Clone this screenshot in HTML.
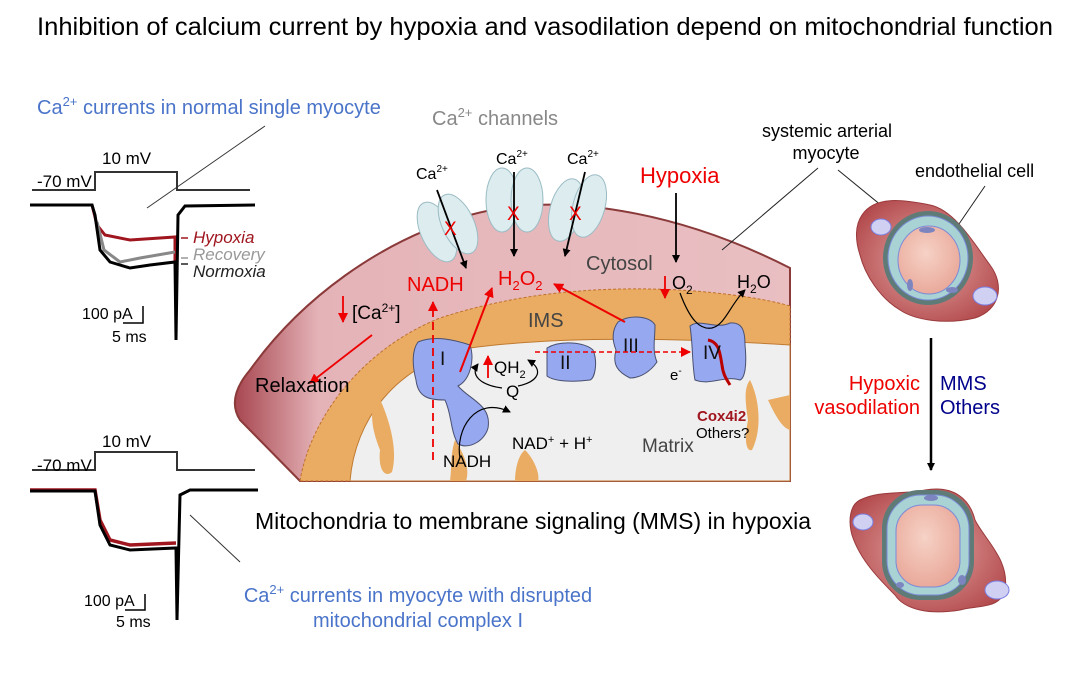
<!DOCTYPE html>
<html><head><meta charset="utf-8"><style>
body{margin:0;background:#fff}
svg{display:block;font-family:"Liberation Sans",Arial,sans-serif}
</style></head><body>
<svg width="1080" height="675" viewBox="0 0 1080 675" xmlns="http://www.w3.org/2000/svg">
<defs>
<linearGradient id="cell" x1="0" x2="1" y1="0" y2="0">
<stop offset="0" stop-color="#a84650"/><stop offset="0.15" stop-color="#e4b3b7"/><stop offset="1" stop-color="#e9bfc2"/></linearGradient>
<radialGradient id="myo" cx="0.5" cy="0.5" r="0.6"><stop offset="0" stop-color="#e6a7a5"/><stop offset="1" stop-color="#b2494c"/></radialGradient>
<radialGradient id="lum" cx="0.45" cy="0.4" r="0.7"><stop offset="0" stop-color="#f6d2c6"/><stop offset="1" stop-color="#e7a394"/></radialGradient>
<marker id="ak" markerWidth="8" markerHeight="8" refX="7" refY="4" orient="auto" markerUnits="userSpaceOnUse"><path d="M0,0 L8,4 L0,8 Z" fill="#000"/></marker>
<marker id="ar" markerWidth="10" markerHeight="10" refX="9" refY="5" orient="auto" markerUnits="userSpaceOnUse"><path d="M0,0 L10,5 L0,10 Z" fill="#e00"/></marker>
</defs>

<text x="545" y="35" font-size="25" text-anchor="middle" fill="#000" textLength="1016" lengthAdjust="spacingAndGlyphs">Inhibition of calcium current by hypoxia and vasodilation depend on mitochondrial function</text>

<!-- top traces -->
<text x="37" y="114" font-size="20" fill="#4a74c9">Ca<tspan font-size="13" dy="-8">2+</tspan><tspan dy="8"> currents in normal single myocyte</tspan></text>
<polyline points="32,190 95,190 95,172 177,172 177,190 250,190" fill="none" stroke="#333" stroke-width="2"/>
<text x="37" y="187" font-size="17">-70 mV</text>
<text x="102" y="164" font-size="17">10 mV</text>
<line x1="147" y1="208" x2="265" y2="126" stroke="#333" stroke-width="1"/>
<polyline points="30,205 92,205 97,225 105,235 130,240 175,237 175,262" fill="none" stroke="#a0161f" stroke-width="3"/>
<polyline points="97,222 104,250 120,262 140,258 175,252" fill="none" stroke="#888" stroke-width="3"/>
<polyline points="30,205 92,205 95,215 100,250 110,262 130,268 150,265 175,262 176,340 178,215 185,206 255,205" fill="none" stroke="#000" stroke-width="3"/>
<text x="193" y="243" font-size="17" font-style="italic" fill="#a0161f">Hypoxia</text>
<text x="193" y="260" font-size="17" font-style="italic" fill="#999">Recovery</text>
<text x="193" y="277" font-size="17" font-style="italic" fill="#222">Normoxia</text>
<line x1="181" y1="238" x2="188" y2="238" stroke="#a0161f" stroke-width="1.5"/>
<line x1="181" y1="258" x2="188" y2="258" stroke="#999" stroke-width="1.5"/>
<line x1="181" y1="264" x2="188" y2="264" stroke="#222" stroke-width="1.5"/>
<text x="82" y="319" font-size="16">100 pA</text>
<polyline points="123,323 143,323 143,306" fill="none" stroke="#000" stroke-width="1.5"/>
<text x="112" y="342" font-size="16">5 ms</text>

<!-- bottom traces -->
<polyline points="32,470 95,470 95,452 177,452 177,470 255,470" fill="none" stroke="#333" stroke-width="2"/>
<text x="37" y="471" font-size="17">-70 mV</text>
<text x="102" y="447" font-size="17">10 mV</text>
<polyline points="30,490 95,490 100,520 110,540 130,545 176,543" fill="none" stroke="#a0161f" stroke-width="3.5"/>
<polyline points="30,491 95,491 100,525 110,545 130,550 176,548 177,620 180,495 190,490 258,490" fill="none" stroke="#000" stroke-width="3"/>
<line x1="190" y1="515" x2="240" y2="562" stroke="#333" stroke-width="1"/>
<text x="84" y="606" font-size="16">100 pA</text>
<polyline points="125,610 145,610 145,594" fill="none" stroke="#000" stroke-width="1.5"/>
<text x="116" y="627" font-size="16">5 ms</text>
<text x="418" y="602" font-size="20" fill="#4a74c9" text-anchor="middle">Ca<tspan font-size="13" dy="-8">2+</tspan><tspan dy="8"> currents in myocyte with disrupted</tspan></text>
<text x="418" y="627" font-size="20" fill="#4a74c9" text-anchor="middle">mitochondrial complex I</text>

<text x="255" y="529" font-size="23">Mitochondria to membrane signaling (MMS) in hypoxia</text>

<!-- central diagram -->
<g>
<path d="M300,481 L240,420 Q226,398 250,370 C300,300 380,240 470,215 C560,190 680,212 790,268 L790,481 Z" fill="url(#cell)" stroke="#8b3a3a" stroke-width="2"/>
<path d="M300,481 C310,420 360,350 440,318 C520,292 600,286 680,290 C730,293 770,300 790,306 L790,481 Z" fill="#e9ac62" stroke="#c0702e" stroke-width="1" stroke-dasharray="3,2"/>
<path d="M350,481 C355,420 395,365 470,348 C560,336 680,338 790,345 L790,481 Z" fill="#efefef" stroke="#c07a30" stroke-width="1"/>
<path d="M378,395 C390,420 398,450 392,472 C385,478 378,470 380,450 C372,430 368,410 378,395 Z" fill="#e9ac62"/>
<path d="M455,440 C465,455 470,470 466,481 L450,481 C452,468 450,455 455,440 Z" fill="#e9ac62"/>
<path d="M525,450 C535,460 540,475 538,481 L515,481 C515,470 518,455 525,450 Z" fill="#e9ac62"/>
<path d="M750,380 C760,400 762,430 752,450 C746,452 744,440 748,420 C745,400 744,388 750,380 Z" fill="#e9ac62"/>
<path d="M768,400 L790,395 L790,430 C782,428 775,415 768,400 Z" fill="#e9ac62"/>

<!-- channels -->
<g fill="#dcecef" stroke="#9bbcc4" stroke-width="1">
<ellipse cx="437" cy="232" rx="16" ry="32" transform="rotate(-25 437 232)"/>
<ellipse cx="458" cy="224" rx="16" ry="32" transform="rotate(-25 458 224)"/>
<ellipse cx="502" cy="200" rx="16" ry="32"/>
<ellipse cx="527" cy="200" rx="16" ry="32"/>
<ellipse cx="566" cy="210" rx="16" ry="32" transform="rotate(15 566 210)"/>
<ellipse cx="589" cy="206" rx="16" ry="32" transform="rotate(15 589 206)"/>
</g>
<g stroke="#000" stroke-width="1.8" marker-end="url(#ak)">
<line x1="437" y1="190" x2="466" y2="268"/>
<line x1="514" y1="172" x2="514" y2="256"/>
<line x1="585" y1="172" x2="565" y2="256"/>
<line x1="676" y1="193" x2="676" y2="262"/>
</g>
<text x="416" y="179" font-size="16">Ca<tspan font-size="10" dy="-7">2+</tspan></text>
<text x="496" y="164" font-size="16">Ca<tspan font-size="10" dy="-7">2+</tspan></text>
<text x="567" y="164" font-size="16">Ca<tspan font-size="10" dy="-7">2+</tspan></text>
<g fill="#e00" font-size="19"><text x="444" y="235">X</text><text x="507" y="220">X</text><text x="569" y="220">X</text></g>
<text x="640" y="183" font-size="22" fill="#e00">Hypoxia</text>
<text x="586" y="270" font-size="20" fill="#444">Cytosol</text>
<text x="407" y="291" font-size="20" fill="#e00">NADH</text>
<text x="498" y="285" font-size="20" fill="#e00">H<tspan font-size="13" dy="5">2</tspan><tspan dy="-5">O</tspan><tspan font-size="13" dy="5">2</tspan></text>
<line x1="343" y1="296" x2="343" y2="322" stroke="#e00" stroke-width="1.8" marker-end="url(#ar)"/>
<text x="352" y="319" font-size="19">[Ca<tspan font-size="12" dy="-7">2+</tspan><tspan dy="7">]</tspan></text>
<line x1="372" y1="335" x2="310" y2="383" stroke="#e00" stroke-width="1.8" marker-end="url(#ar)"/>
<text x="255" y="392" font-size="20">Relaxation</text>
<text x="528" y="327" font-size="20" fill="#444">IMS</text>
<line x1="665" y1="276" x2="665" y2="298" stroke="#e00" stroke-width="1.8" marker-end="url(#ar)"/>
<text x="672" y="289" font-size="18">O<tspan font-size="12" dy="5">2</tspan></text>
<text x="737" y="288" font-size="18">H<tspan font-size="12" dy="5">2</tspan><tspan dy="-5">O</tspan></text>

<!-- complexes -->
<g fill="#95a8f0" stroke="#4a5070" stroke-width="1">
<path d="M418,342 C435,335 455,340 470,345 C475,360 470,380 458,386 C470,400 492,405 488,428 C485,440 470,450 458,444 C450,430 452,415 445,400 C430,400 418,398 416,380 C412,365 412,350 418,342 Z"/>
<path d="M547,348 C560,340 585,342 593,350 C598,362 595,378 590,380 C575,382 555,382 547,376 Z"/>
<path d="M618,322 C630,314 650,316 655,325 C655,340 652,350 657,362 C650,372 640,378 630,378 C618,372 612,365 616,350 C612,340 612,330 618,322 Z"/>
<path d="M690,326 C700,318 715,330 730,323 C742,322 745,330 745,345 C747,365 745,378 740,380 C725,375 710,386 695,380 C692,365 693,345 690,326 Z"/>
</g>
<path d="M708,340 C720,342 720,355 722,365 C723,375 727,380 730,385" fill="none" stroke="#b00" stroke-width="3"/>
<text x="440" y="365" font-size="19" fill="#111">I</text>
<text x="560" y="369" font-size="19" fill="#111">II</text>
<text x="623" y="352" font-size="19" fill="#111">III</text>
<text x="703" y="359" font-size="19" fill="#111">IV</text>
<line x1="433" y1="460" x2="433" y2="302" stroke="#e00" stroke-width="1.8" stroke-dasharray="8,5" marker-end="url(#ar)"/>
<line x1="460" y1="372" x2="492" y2="288" stroke="#e00" stroke-width="2" marker-end="url(#ar)"/>
<line x1="625" y1="322" x2="554" y2="284" stroke="#e00" stroke-width="2" marker-end="url(#ar)"/>
<line x1="535" y1="352" x2="690" y2="352" stroke="#e00" stroke-width="1.5" stroke-dasharray="5,3" marker-end="url(#ar)"/>
<line x1="488" y1="378" x2="488" y2="356" stroke="#e00" stroke-width="1.8" marker-end="url(#ar)"/>
<text x="494" y="373" font-size="17">QH<tspan font-size="11" dy="5">2</tspan></text>
<text x="506" y="397" font-size="17">Q</text>
<path d="M502,388 C480,385 470,375 478,364" fill="none" stroke="#000" stroke-width="1.2" marker-end="url(#ak)"/>
<path d="M518,386 C538,382 545,370 528,360" fill="none" stroke="#000" stroke-width="1.2" marker-end="url(#ak)"/>
<text x="670" y="380" font-size="15">e<tspan font-size="10" dy="-6">-</tspan></text>
<path d="M680,293 C690,320 700,330 712,328 C725,325 730,305 745,290" fill="none" stroke="#000" stroke-width="1.2" marker-end="url(#ak)"/>
<text x="697" y="421" font-size="15" font-weight="bold" fill="#a0161f">Cox4i2</text>
<text x="696" y="438" font-size="15">Others?</text>
<path d="M460,458 C455,430 475,395 510,412" fill="none" stroke="#000" stroke-width="1.2" marker-end="url(#ak)"/>
<text x="512" y="449" font-size="17">NAD<tspan font-size="11" dy="-6">+</tspan><tspan dy="6"> + H</tspan><tspan font-size="11" dy="-6">+</tspan></text>
<text x="443" y="467" font-size="17">NADH</text>
<text x="642" y="452" font-size="19" fill="#444">Matrix</text>
</g>
<text x="432" y="125" font-size="20" fill="#888">Ca<tspan font-size="13" dy="-8">2+</tspan><tspan dy="8"> channels</tspan></text>

<!-- right side -->
<text x="762" y="137" font-size="18">systemic arterial</text>
<text x="826" y="159" font-size="18" text-anchor="middle">myocyte</text>
<text x="915" y="177" font-size="18">endothelial cell</text>
<line x1="818" y1="168" x2="722" y2="250" stroke="#222" stroke-width="1"/>
<line x1="838" y1="170" x2="893" y2="215" stroke="#222" stroke-width="1"/>
<line x1="985" y1="186" x2="948" y2="240" stroke="#222" stroke-width="1"/>

<path d="M862,215 C875,195 905,200 930,205 C955,210 975,245 990,265 C1005,285 1000,310 975,318 C945,325 915,320 900,310 C880,298 865,275 860,255 C855,240 855,225 862,215 Z" fill="url(#myo)" stroke="#9a3a3c" stroke-width="1"/>
<ellipse cx="928" cy="258" rx="45" ry="47" fill="#5e7b78"/>
<ellipse cx="928" cy="258" rx="40" ry="42" fill="#a9d2d4" stroke="#7a8ad8" stroke-width="1"/>
<ellipse cx="929" cy="260" rx="31" ry="34" fill="url(#lum)" stroke="#7a8ad8" stroke-width="1"/>
<ellipse cx="881" cy="227" rx="10" ry="8" fill="#cfd0f2" stroke="#7a7ee0"/>
<ellipse cx="985" cy="296" rx="12" ry="9" fill="#cfd0f2" stroke="#7a7ee0"/>
<ellipse cx="927" cy="230" rx="8" ry="3" fill="#7c85c0"/>
<ellipse cx="910" cy="285" rx="3" ry="6" fill="#7c85c0"/>
<ellipse cx="952" cy="290" rx="6" ry="3" fill="#7c85c0"/>

<line x1="931" y1="338" x2="931" y2="470" stroke="#000" stroke-width="2.5" marker-end="url(#ak)"/>
<text x="920" y="390" font-size="20" fill="#e00" text-anchor="end">Hypoxic</text>
<text x="920" y="414" font-size="20" fill="#e00" text-anchor="end">vasodilation</text>
<text x="940" y="390" font-size="20" fill="#00008b">MMS</text>
<text x="940" y="414" font-size="20" fill="#00008b">Others</text>

<path d="M860,500 C880,490 900,495 925,490 C955,485 970,500 975,520 C985,540 1010,560 1005,590 C1000,610 975,605 960,610 C930,615 905,610 895,595 C880,580 860,560 852,535 C848,520 850,505 860,500 Z" fill="url(#myo)" stroke="#9a3a3c" stroke-width="1"/>
<rect x="882" y="490" width="92" height="110" rx="38" fill="#5e7b78"/>
<rect x="887" y="495" width="82" height="100" rx="34" fill="#a9d2d4" stroke="#7a8ad8"/>
<rect x="896" y="505" width="64" height="82" rx="26" fill="url(#lum)" stroke="#7a8ad8"/>
<ellipse cx="863" cy="522" rx="10" ry="8" fill="#cfd0f2" stroke="#7a7ee0"/>
<ellipse cx="997" cy="590" rx="12" ry="9" fill="#cfd0f2" stroke="#7a7ee0"/>
<ellipse cx="931" cy="498" rx="7" ry="3" fill="#7c85c0"/>
<ellipse cx="900" cy="585" rx="4" ry="3" fill="#7c85c0"/>
<ellipse cx="962" cy="580" rx="4" ry="5" fill="#7c85c0"/>
</svg>
</body></html>
